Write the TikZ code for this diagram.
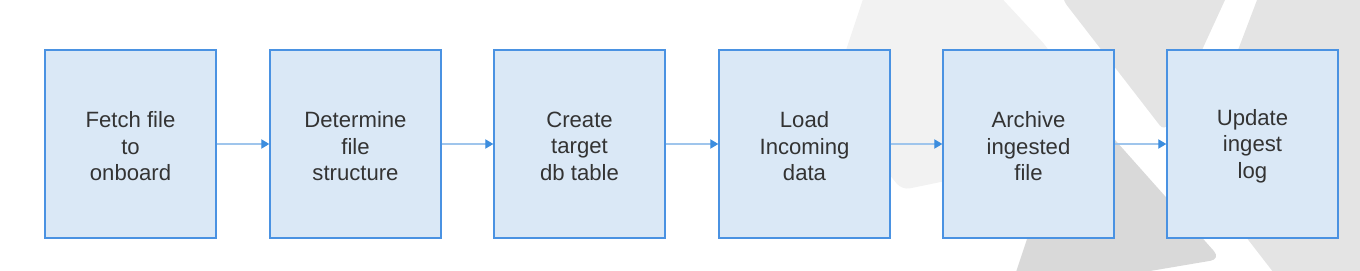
\documentclass[tikz,border=0pt]{standalone}
\usepackage{fontspec}
\setmainfont{Liberation Sans}
\usetikzlibrary{arrows.meta}
\definecolor{boxfill}{HTML}{DAE8F6}
\definecolor{boxline}{HTML}{4A92E2}
\definecolor{arrline}{HTML}{9FC5EC}
\definecolor{arrtip}{HTML}{3C8DDE}
\definecolor{txt}{HTML}{333333}
\definecolor{shA}{HTML}{F2F2F2}
\definecolor{shB}{HTML}{E4E4E4}
\definecolor{shC}{HTML}{D9D9D9}
\begin{document}
\begin{tikzpicture}[x=0.75pt,y=-0.75pt,
  box/.style={draw=boxline, line width=1.1pt, fill=boxfill, minimum width=128.25pt, minimum height=141pt, inner sep=0pt},
  boxtxt/.style={align=center, inner sep=0pt, yshift=-1.6pt, font=\fontsize{16.6}{19.8}\selectfont, text=txt},
  flow/.style={draw=arrline, line width=0.9pt, -{Triangle[length=6pt,width=7pt,color=arrtip]}}]
\useasboundingbox (0,0) rectangle (1360,271);
\begin{scope}
  \clip (0,0) rectangle (1360,271);
  % light band
  \fill[shA, rounded corners=6pt] (866,-10) -- (829,101) -- (902,190) -- (1105,148) -- (1047,47) -- (994,-10) -- cycle;
  % upper-left triangle of right shape
  \fill[shB, rounded corners=6pt] (1062,-1) -- (1164.5,131.5) -- (1229.6,-10) -- (1062,-10) -- cycle;
  % right large shape
  \fill[shB] (1260.8,-10) -- (1193,168.5) -- (1287,290) -- (1370,290) -- (1370,-10) -- cycle;
  % darker lower shape
  \fill[shC, rounded corners=8pt] (1075,95) -- (1221,259) -- (1038,290) -- (1010,290) -- cycle;
\end{scope}
\node[box, label={[boxtxt]center:{Fetch file\\to\\onboard}}] (b1) at (130.5,144) {};
\node[box, label={[boxtxt]center:{Determine\\file\\structure}}] (b2) at (355.5,144) {};
\node[box, label={[boxtxt]center:{Create\\target\\db table}}] (b3) at (579.5,144) {};
\node[box, label={[boxtxt]center:{Load\\Incoming\\data}}] (b4) at (804.5,144) {};
\node[box, label={[boxtxt]center:{Archive\\ingested\\file}}] (b5) at (1028.5,144) {};
\node[box, label={[boxtxt]center:{Update\\ingest\\log}}] (b6) at (1252.5,144) {};
\draw[flow] (b1.east) -- (b2.west);
\draw[flow] (b2.east) -- (b3.west);
\draw[flow] (b3.east) -- (b4.west);
\draw[flow] (b4.east) -- (b5.west);
\draw[flow] (b5.east) -- (b6.west);
\end{tikzpicture}
\end{document}
